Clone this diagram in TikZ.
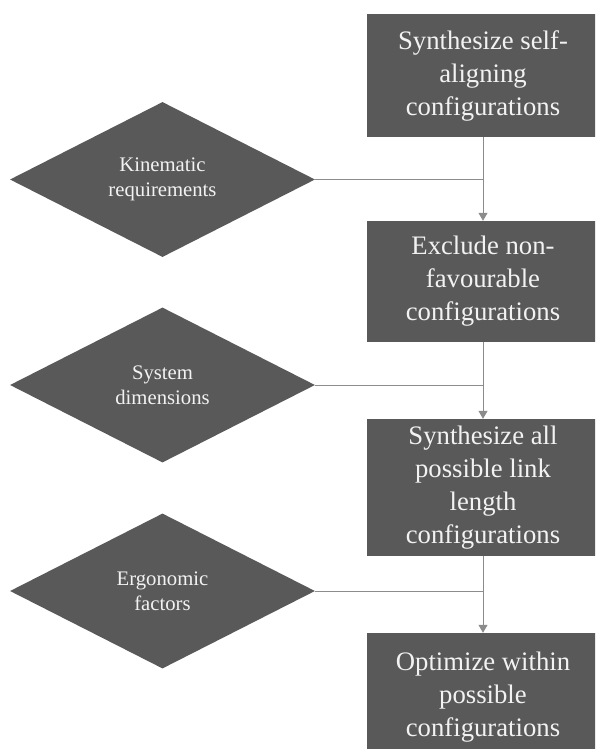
\documentclass[tikz,border=0pt]{standalone}
\usepackage{fontspec}
\setmainfont{Liberation Serif}
\usetikzlibrary{shapes.geometric,arrows.meta}
\definecolor{boxfill}{HTML}{595959}
\definecolor{txt}{HTML}{F2F2F2}
\definecolor{linecol}{HTML}{8C8C8C}
\tikzset{
  stepbox/.style={rectangle, fill=boxfill, draw=none, text=txt, align=center,
    minimum width=232pt, inner sep=0pt, font=\fontsize{26.7}{33}\selectfont},
  inputdia/.style={diamond, fill=boxfill, draw=none, text=txt, align=center,
    minimum width=305pt, minimum height=155pt, inner sep=0pt,
    font=\fontsize{20.7}{25}\selectfont},
  flowarrow/.style={draw=linecol, line width=1pt, -{Triangle[width=9pt,length=8pt]}},
  feedline/.style={draw=linecol, line width=1pt}
}
\begin{document}
\begin{tikzpicture}[x=1pt,y=-1pt]
\useasboundingbox (0,0) rectangle (595,749);
\begin{scope}
\clip (0,0) rectangle (595,749);
\node[stepbox, minimum height=123pt] (b1) at (483,75.5) {Synthesize self-\\aligning\\configurations};
\node[stepbox, minimum height=121pt] (b2) at (483,281.5) {Exclude non-\\favourable\\configurations};
\node[stepbox, minimum height=137pt] (b3) at (483,487.5) {Synthesize all\\possible link\\length\\configurations};
\node[stepbox, minimum height=128pt] (b4) at (483,697) {Optimize within\\possible\\configurations};
\node[inputdia] (d1) at (162.5,179.5) {Kinematic\\requirements};
\node[inputdia] (d2) at (162.5,385) {System\\dimensions};
\node[inputdia] (d3) at (162.5,591) {Ergonomic\\factors};
\draw[flowarrow] (b1.south) -- (b2.north);
\draw[flowarrow] (b2.south) -- (b3.north);
\draw[flowarrow] (b3.south) -- (b4.north);
\draw[feedline] (d1.east) -- (d1.east -| b1.south);
\draw[feedline] (d2.east) -- (d2.east -| b2.south);
\draw[feedline] (d3.east) -- (d3.east -| b3.south);
\end{scope}
\end{tikzpicture}
\end{document}
